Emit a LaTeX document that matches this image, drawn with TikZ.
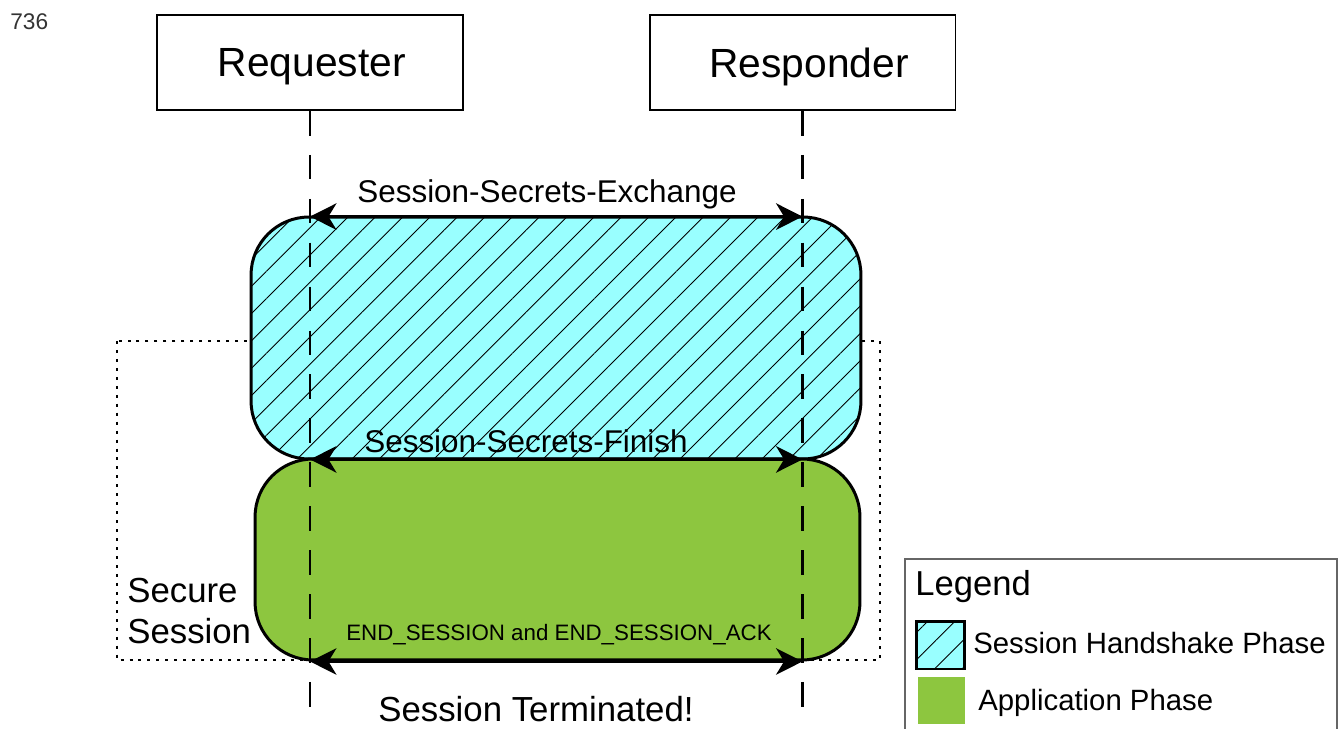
\documentclass[tikz,border=0pt]{standalone}
\usepackage{fontspec}
\setmainfont{Liberation Sans}
\usetikzlibrary{arrows.meta,positioning,patterns.meta}
\definecolor{handshakecyan}{HTML}{99FFFF}
\definecolor{appgreen}{HTML}{8DC63F}
\definecolor{pagenum}{HTML}{333333}

\begin{document}
\begin{tikzpicture}[x=0.02cm,y=-0.02cm,
	actor node/.style={rectangle,draw,line width=1.1pt,minimum width=6.13cm,minimum height=1.9cm,text depth=0pt,font=\fontsize{23.2pt}{28pt}\selectfont},
	phase box/.style={rectangle,draw,line width=1.7pt,rounded corners=1.16cm,inner sep=0pt},
	handshake box/.style={phase box,preaction={fill=handshakecyan},pattern={Lines[angle=45,distance=11pt,line width=0.5pt]}},
	app box/.style={phase box,fill=appgreen},
	lifeline/.style={line width=1.5pt,dash pattern=on 14pt off 11pt},
	message/.style={{Stealth[length=15pt,width=15pt,inset=4.5pt]}-{Stealth[length=15pt,width=15pt,inset=4.5pt]},line width=2pt},
	msg text/.style={inner sep=0pt,anchor=base}]

	\useasboundingbox (0,0) rectangle (1342,729);

	\node[msg text,anchor=base west,text=pagenum,font=\fontsize{12.9pt}{15pt}\selectfont] (page) at (10,30) {736};

	% secure session frame
	\draw[line width=1.6pt,dash pattern=on 1.7pt off 3.4pt] (117,341) rectangle (880,660);

	\node[actor node] (req) at (310,62.5) {\hspace*{2pt}Requester};
	\node[actor node,minimum width=6.12cm] (resp) at (802.5,62.5) {\hspace*{7.4pt}Responder};

	\node[handshake box,minimum width=12.2cm,minimum height=4.84cm] (hs) at (556,338) {};
	\node[app box,minimum width=12.1cm,minimum height=4.02cm] (app) at (557.5,559.5) {};

	\coordinate (reqbot) at (310,708);
	\coordinate (respbot) at (802.5,708);
	\draw[lifeline] (req.south) -- (reqbot);
	\draw[lifeline] (resp.south) -- (respbot);

	\draw[message] (req |- hs.north) -- (resp |- hs.north);
	\draw[message] (req |- hs.south) -- (resp |- hs.south);
	\draw[message] (req |- app.south) -- (resp |- app.south);

	\node[msg text,font=\fontsize{17.9pt}{21pt}\selectfont] (exchange) at (547,203) {Session-Secrets-Exchange};
	\node[msg text,font=\fontsize{17.9pt}{21pt}\selectfont] (finish) at (526,452) {Session-Secrets-Finish};
	\node[msg text,font=\fontsize{12.7pt}{15pt}\selectfont] (endsession) at (559,640) {END\_SESSION and END\_SESSION\_ACK};
	\node[msg text,font=\fontsize{19.8pt}{23pt}\selectfont] (terminated) at (536,721) {Session Terminated!};
	\node[msg text,anchor=base west,align=left,font=\fontsize{19.8pt}{23.2pt}\selectfont] (secure) at (127,643) {Secure\\Session};

	% legend
	\draw[line width=0.6pt,draw=black!60] (905,729) |- (1337,559) -- (1337,729);
	\node[msg text,anchor=base west,font=\fontsize{19.7pt}{23pt}\selectfont] (legend) at (915,595) {Legend};
	\node[handshake box,sharp corners,minimum size=0.96cm] (keyhs) at (940,645) {};
	\node[msg text,anchor=base west,font=\fontsize{16.7pt}{20pt}\selectfont] (keyhstext) at (973,653) {Session Handshake Phase};
	\node[fill=appgreen,minimum size=0.94cm,inner sep=0pt] (keyapp) at (941,700.5) {};
	\node[msg text,anchor=base west,font=\fontsize{16.7pt}{20pt}\selectfont] (keyapptext) at (978,710) {Application Phase};
\end{tikzpicture}
\end{document}
